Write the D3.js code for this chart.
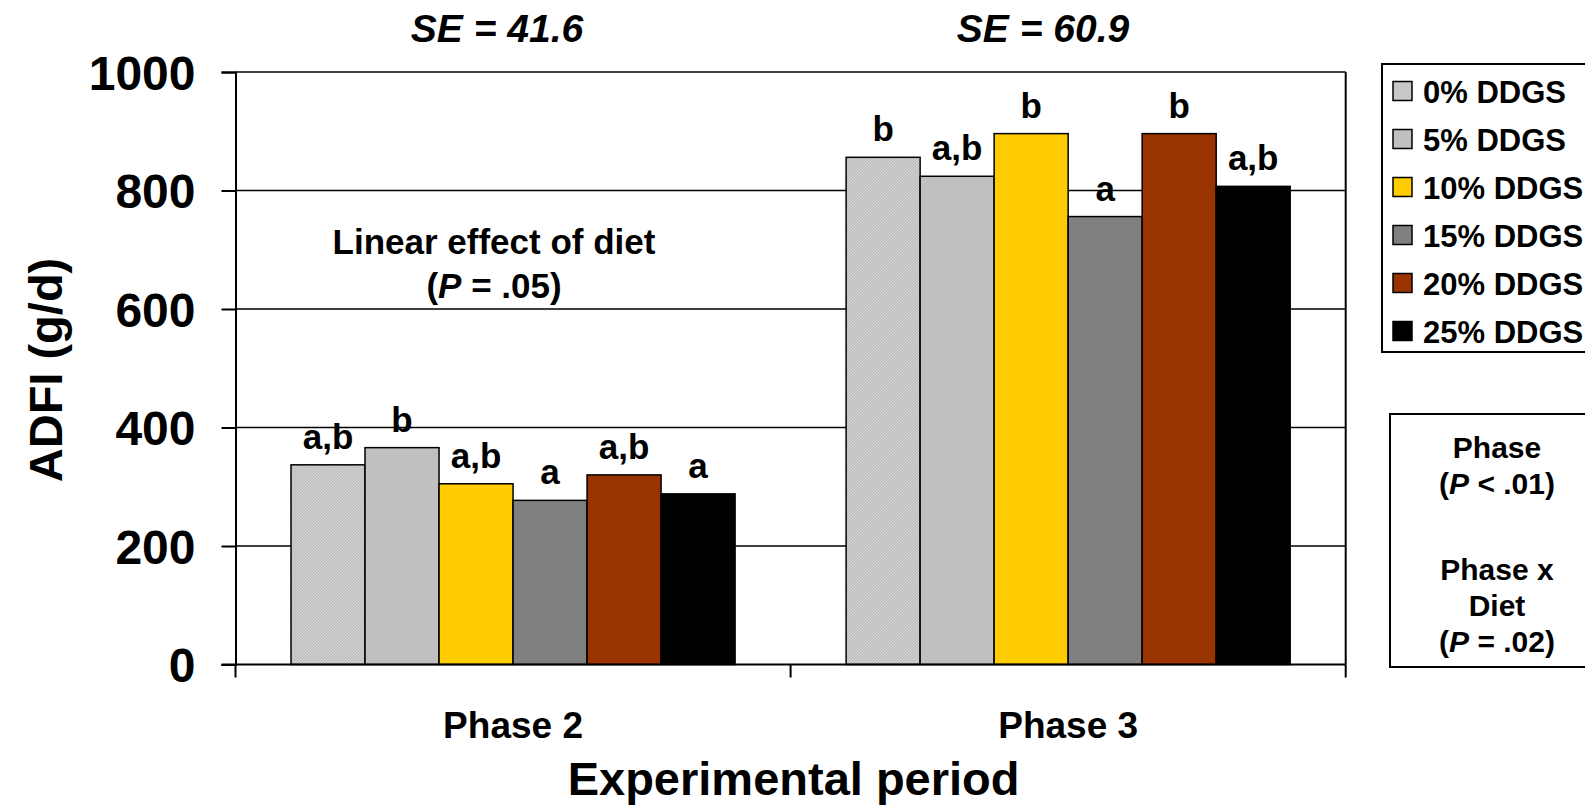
<!DOCTYPE html>
<html>
<head>
<meta charset="utf-8">
<script src="https://cdn.jsdelivr.net/npm/d3@7/dist/d3.min.js"></script>
<style>
  html, body { margin: 0; padding: 0; background: #fff; }
  svg { display: block; font-family: "Liberation Sans", Arial, sans-serif; font-weight: bold; }
</style>
</head>
<body>
<svg id="chart" width="1585" height="807"></svg>
<script>
// ---- data ----
const phases = ["Phase 2", "Phase 3"];
const diets = ["0% DDGS", "5% DDGS", "10% DDGS", "15% DDGS", "20% DDGS", "25% DDGS"];
const phase2Values = [337, 366, 305, 277, 320, 288];
const phase3Values = [856, 824, 896, 756, 896, 807];
const phase2Letters = ["a,b", "b", "a,b", "a", "a,b", "a"];
const phase3Letters = ["b", "a,b", "b", "a", "b", "a,b"];
const seLabels = ["41.6", "60.9"];
const yTicks = [0, 200, 400, 600, 800, 1000];
const colors = ["url(#hatch)", "#c0c0c0", "#ffcc00", "#808080", "#993300", "#000000"];

const values = [phase2Values, phase3Values];
const letters = [phase2Letters, phase3Letters];

// ---- layout ----
const L = 235.5, R = 1345.7, T = 72, B = 664.5;
const svg = d3.select("#chart");

const defs = svg.append("defs");
const pat = defs.append("pattern").attr("id", "hatch").attr("patternUnits", "userSpaceOnUse")
  .attr("width", 3).attr("height", 3);
pat.append("rect").attr("width", 3).attr("height", 3).attr("fill", "#d6d6d6");
pat.append("path").attr("d", "M0,3 L3,0 M-1,1 L1,-1 M2,4 L4,2").attr("stroke", "#a4a4a4").attr("stroke-width", 0.9);

const y = d3.scaleLinear().domain([0, 1000]).range([B, T]);
const x0 = d3.scaleBand().domain(phases).range([L, R]).padding(0);
const x1 = d3.scaleBand().domain(diets).range([0, x0.bandwidth()]).paddingInner(0).paddingOuter(0.75);

// gridlines
svg.append("g").selectAll("line").data(yTicks.filter(d => d > 0)).join("line")
  .attr("x1", L).attr("x2", R).attr("y1", d => y(d)).attr("y2", d => y(d))
  .attr("stroke", "#000").attr("stroke-width", 1.6);

// right border
svg.append("line").attr("x1", R).attr("x2", R).attr("y1", T).attr("y2", B)
  .attr("stroke", "#000").attr("stroke-width", 2);

// bars
const groups = svg.append("g").selectAll("g").data(phases).join("g")
  .attr("transform", p => `translate(${x0(p)},0)`);
groups.selectAll("rect").data((p, i) => values[i].map((v, j) => ({ v, j }))).join("rect")
  .attr("x", d => x1(diets[d.j]))
  .attr("width", x1.bandwidth())
  .attr("y", d => y(d.v))
  .attr("height", d => y(0) - y(d.v))
  .attr("fill", d => colors[d.j])
  .attr("stroke", "#000").attr("stroke-width", 1.5);

// significance letters
groups.selectAll("text").data((p, i) => values[i].map((v, j) => ({ v, j, t: letters[i][j] }))).join("text")
  .attr("x", d => x1(diets[d.j]) + x1.bandwidth() / 2)
  .attr("y", d => y(d.v) - 16)
  .attr("text-anchor", "middle")
  .attr("font-size", 35)
  .text(d => d.t);

// y axis
const yAxis = d3.axisLeft(y).tickValues(yTicks).tickFormat(d3.format("d")).tickSize(14).tickPadding(26);
const gy = svg.append("g").attr("transform", `translate(${L},0)`).call(yAxis);
gy.select(".domain").attr("stroke", "#000").attr("stroke-width", 2);
gy.selectAll(".tick line").attr("stroke", "#000").attr("stroke-width", 2);
gy.selectAll(".tick text").attr("font-size", 48).attr("font-family", "Liberation Sans, Arial, sans-serif")
  .attr("font-weight", "bold").attr("fill", "#000").attr("dy", "0.36em");

// x axis
svg.append("line").attr("x1", L - 14).attr("x2", R).attr("y1", B).attr("y2", B)
  .attr("stroke", "#000").attr("stroke-width", 2);
const bounds = [...phases.map(p => x0(p)), R];
svg.append("g").selectAll("line").data(bounds).join("line")
  .attr("x1", d => d).attr("x2", d => d).attr("y1", B).attr("y2", B + 13)
  .attr("stroke", "#000").attr("stroke-width", 2);
svg.append("g").selectAll("text").data(phases).join("text")
  .attr("x", p => x0(p) + x0.bandwidth() / 2).attr("y", 738)
  .attr("text-anchor", "middle").attr("font-size", 37).text(p => p);

// axis titles
svg.append("text").attr("x", (L + R) / 2 + 3).attr("y", 795).attr("text-anchor", "middle")
  .attr("font-size", 47).text("Experimental period");
svg.append("text").attr("transform", "translate(62,370) rotate(-90)").attr("text-anchor", "middle")
  .attr("font-size", 47).text("ADFI (g/d)");

// SE labels
const seX = [497, 1043];
svg.append("g").selectAll("text").data(seLabels).join("text")
  .attr("x", (d, i) => seX[i]).attr("y", 42).attr("text-anchor", "middle")
  .attr("font-size", 39).attr("font-style", "italic").text(d => `SE = ${d}`);

// linear effect note
const note = svg.append("text").attr("text-anchor", "middle").attr("font-size", 35);
note.append("tspan").attr("x", 494).attr("y", 254).text("Linear effect of diet");
const n2 = svg.append("text").attr("x", 494).attr("y", 298).attr("text-anchor", "middle").attr("font-size", 35);
n2.append("tspan").text("(");
n2.append("tspan").attr("font-style", "italic").text("P");
n2.append("tspan").text(" = .05)");

// legend
const lg = svg.append("g");
lg.append("rect").attr("x", 1382).attr("y", 64).attr("width", 240).attr("height", 288)
  .attr("fill", "#fff").attr("stroke", "#000").attr("stroke-width", 2);
const items = lg.selectAll("g").data(diets).join("g")
  .attr("transform", (d, i) => `translate(1393,${91.5 + i * 48})`);
items.append("rect").attr("x", 0).attr("y", -10).attr("width", 19).attr("height", 19)
  .attr("fill", (d, i) => colors[i]).attr("stroke", "#000").attr("stroke-width", 1.5);
items.append("text").attr("x", 30).attr("y", 11).attr("font-size", 31).text(d => d);

// stats box
svg.append("rect").attr("x", 1390).attr("y", 414).attr("width", 230).attr("height", 253)
  .attr("fill", "#fff").attr("stroke", "#000").attr("stroke-width", 2);
const bx = 1497;
const statLines = [
  { y: 458, parts: [["Phase", false]] },
  { y: 494, parts: [["(", false], ["P", true], [" < .01)", false]] },
  { y: 580, parts: [["Phase x", false]] },
  { y: 616, parts: [["Diet", false]] },
  { y: 652, parts: [["(", false], ["P", true], [" = .02)", false]] }
];
statLines.forEach(l => {
  const t = svg.append("text").attr("x", bx).attr("y", l.y).attr("text-anchor", "middle").attr("font-size", 30);
  l.parts.forEach(p => t.append("tspan").attr("font-style", p[1] ? "italic" : null).text(p[0]));
});
</script>
</body>
</html>
